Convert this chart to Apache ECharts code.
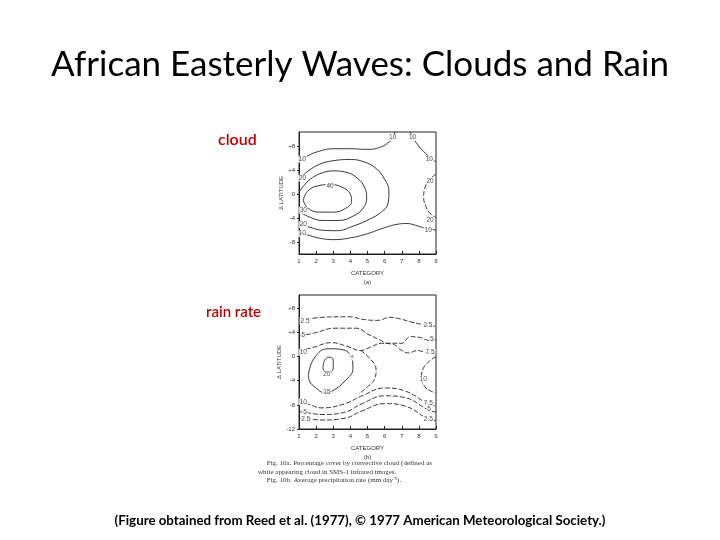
<!DOCTYPE html>
<html><head><meta charset="utf-8">
<script src="https://cdn.jsdelivr.net/npm/echarts@6/dist/echarts.min.js"></script>
<style>html,body{margin:0;padding:0;background:#fff}#c{width:720px;height:540px}</style>
</head><body><div id="c"></div>
<script>
// ---- tick values ----
const categoryTicks = [1, 2, 3, 4, 5, 6, 7, 8, 9];
const latTicksCloud = [-8, -4, 0, 4, 8];
const latTicksRain = [-12, -8, -4, 0, 4, 8];

// ---- panel (a): cloud cover contours [category, Δlatitude] ----
const cloud10Top = [[1,5.4],[1.5,6.4],[2.2,7.2],[3.0,7.6],[4.0,7.6],[5.0,7.5],[5.7,7.8],[6.2,8.6],[6.5,9.5],[6.6,10.4]];
const cloud10TopRight = [[7.5,10.4],[7.7,9.3],[8.0,8.0],[8.4,6.8],[8.7,6.0],[9,5.4]];
const cloud20 = [[1.0,2.5],[1.5,3.8],[2.2,5.0],[3.0,5.6],[4.0,5.8],[4.8,5.4],[5.5,4.3],[6.0,2.5],[6.25,0.5],[6.2,-1.5],[5.8,-3.0],[5.1,-4.2],[4.2,-5.3],[3.2,-6.1],[2.3,-6.0],[1.6,-5.5],[1.0,-5.0]];
const cloud30 = [[1,0.3],[1.3,1.5],[1.8,2.8],[2.4,3.6],[3.0,3.9],[3.7,3.7],[4.4,2.7],[4.85,1.0],[4.95,-0.6],[4.75,-2.3],[4.2,-3.6],[3.3,-4.4],[2.4,-4.4],[1.6,-3.8],[1.0,-2.9]];
const cloud40 = [[1.25,-1.0],[1.5,0.5],[2.1,1.4],[2.8,1.6],[3.5,1.2],[4.0,0],[4.07,-1.2],[3.7,-2.4],[3.0,-3.0],[2.2,-3.0],[1.5,-2.3],[1.25,-1.0]];
const cloud20Right = [[9,3.3],[8.6,2.4],[8.35,1.0],[8.28,-0.5],[8.4,-2.0],[8.65,-3.2],[9,-3.9]];
const cloud10Bottom = [[1,-6.3],[1.6,-6.9],[2.3,-7.4],[3.0,-7.6],[4.0,-7.3],[5.0,-6.6],[6.0,-5.6],[6.8,-5.0],[7.3,-4.9],[7.8,-5.2],[8.4,-5.7],[9,-6.0]];
const cloudLabels = [["10",1.19,5.86],["20",1.21,2.7],["30",1.25,-2.7],["20",1.25,-5.1],["10",1.19,-6.6],["40",2.81,1.3],["10",6.47,9.5],["10",7.63,9.5],["10",8.61,5.86],["20",8.65,2.25],["20",8.65,-4.36],["10",8.55,-6.08]];

// ---- panel (b): rain rate contours ----
const rain25Top = [[1,5.8],[2.3,6.5],[3.8,6.6],[4.9,6.1],[5.6,6.0],[6.3,6.5],[6.8,6.3],[7.6,5.7],[8.4,5.2],[9,5.0]];
const rain5Top = [[1,3.4],[1.9,3.9],[3.1,4.7],[4.3,4.7],[5.1,3.6],[5.7,2.8],[6.2,2.2],[7.0,2.2],[7.5,3.3],[8.0,3.2],[8.6,2.7],[9,2.8]];
const rain75Top = [[1,0.9],[1.8,1.5],[2.9,2.3],[3.8,1.7],[4.6,1.0],[5.2,1.6],[5.8,2.2],[6.5,2.0],[7.0,1.0],[7.4,0.6],[7.9,1.0],[8.5,0.6],[9,0.5]];
const rain10Left = [[4.6,1.0],[5.2,-0.5],[5.5,-2.2],[5.4,-3.8],[5.0,-5.0],[4.5,-6.2]];
const rain15 = [[1.55,-3],[1.9,-0.2],[2.7,1.3],[3.6,1.1],[4.1,-0.5],[4.15,-2],[3.7,-4.0],[3.0,-5.6],[2.5,-6.0],[2.0,-5.2],[1.6,-4.0],[1.55,-3]];
const rain20 = [[2.4,-1.8],[2.5,-0.6],[2.75,-0.1],[3.0,-0.6],[3.0,-1.8],[2.8,-2.6],[2.5,-2.5],[2.4,-1.8]];
const rain10Right = [[9,0],[8.6,-0.8],[8.25,-2],[8.15,-3.5],[8.35,-5],[8.75,-5.8],[9,-6]];
const rain75Bottom = [[1,-7.3],[1.47,-7.8],[2.34,-8.5],[3.69,-7.8],[4.68,-6.5],[6.02,-5.2],[7.19,-5.7],[8.53,-7.8],[9,-8.2]];
const rain5Bottom = [[1,-9.1],[1.47,-9.3],[2.34,-9.6],[3.69,-9.2],[4.68,-7.8],[6.02,-6.5],[7.19,-6.8],[8.53,-8.8],[9,-9.2]];
const rain25Bottom = [[1,-10.2],[1.47,-10.3],[2.34,-10.5],[3.69,-10.2],[4.68,-9.0],[6.02,-7.8],[7.19,-8.2],[8.53,-10.3],[9,-10.6]];
const rainLabels = [["2.5",1.35,5.9],["5",1.25,3.5],["10",1.25,0.7],["10",1.25,-7.5],["5",1.35,-9.3],["2.5",1.4,-10.3],["20",2.62,-2.9],["15",2.62,-5.95],["+",4.1,-0.1],["2.5",8.53,5.2],["5",8.76,2.8],["7.5",8.65,0.7],["10",8.25,-3.7],["7.5",8.55,-7.8],["5",8.6,-8.8],["2.5",8.55,-10.3]];

const chart = echarts.init(document.getElementById('c'));
const ink = '#222';
const axisFont = {fontFamily: 'Liberation Sans', fontSize: 6, color: '#333'};

function contour(data, idx, dashed) {
  return {type: 'line', xAxisIndex: idx, yAxisIndex: idx, data: data, smooth: 0.45,
    symbol: 'none', silent: true, animation: false, z: 2,
    lineStyle: {color: ink, width: 0.9, type: dashed ? [5, 2] : 'solid'}};
}
function labels(list, idx) {
  return {type: 'scatter', xAxisIndex: idx, yAxisIndex: idx, symbolSize: 0, silent: true, animation: false, z: 5,
    data: list.map(d => [d[1], d[2], d[0]]),
    label: {show: true, position: 'inside', formatter: p => p.value[2], fontFamily: 'Liberation Sans', fontSize: 6.5,
      color: '#222', backgroundColor: '#fff', padding: [0, 1]}};
}
function xAx(idx, name) {
  return {type: 'value', gridIndex: idx, min: 1, max: 9, interval: 1, name: name, nameLocation: 'middle', nameGap: 15,
    nameTextStyle: {fontFamily: 'Liberation Sans', fontSize: 6, color: '#333', lineHeight: 9},
    axisLine: {onZero: false, lineStyle: {color: ink, width: 1}}, axisTick: {inside: true, length: 3, lineStyle: {color: ink}},
    axisLabel: Object.assign({margin: 4}, axisFont), splitLine: {show: false}};
}
function yAx(idx, min, max, ticks) {
  return {type: 'value', gridIndex: idx, min: min, max: max, name: 'Δ LATITUDE', nameLocation: 'middle', nameGap: 15, nameRotate: 90,
    nameTextStyle: {fontFamily: 'Liberation Sans', fontSize: 6, color: '#333'},
    axisLine: {onZero: false, lineStyle: {color: ink, width: 1}},
    axisTick: {length: 2, customValues: ticks, lineStyle: {color: ink}},
    axisLabel: Object.assign({margin: 4, customValues: ticks, formatter: v => v > 0 ? '+' + v : String(v)}, axisFont),
    splitLine: {show: false}};
}

chart.setOption({
  backgroundColor: '#fff',
  animation: false,
  title: {text: 'African Easterly Waves: Clouds and Rain', left: 'center', top: 42,
    textStyle: {fontFamily: 'Lato', fontWeight: 'normal', fontSize: 35, color: '#000'}},
  grid: [
    {left: 299, top: 132, width: 137, height: 122, show: true, borderColor: ink, borderWidth: 1, backgroundColor: 'transparent'},
    {left: 299, top: 295, width: 137, height: 134, show: true, borderColor: ink, borderWidth: 1, backgroundColor: 'transparent'}
  ],
  xAxis: [xAx(0, 'CATEGORY\n(a)'), xAx(1, 'CATEGORY\n(b)')],
  yAxis: [yAx(0, -10, 10.4, latTicksCloud), yAx(1, -12, 10.2, latTicksRain)],
  series: [
    contour(cloud10Top, 0), contour(cloud10TopRight, 0), contour(cloud20, 0), contour(cloud30, 0),
    contour(cloud40, 0), contour(cloud20Right, 0, true), contour(cloud10Bottom, 0),
    labels(cloudLabels, 0),
    contour(rain25Top, 1, true), contour(rain5Top, 1, true), contour(rain75Top, 1, true), contour(rain10Left, 1, true),
    contour(rain15, 1), contour(rain20, 1), contour(rain10Right, 1, true),
    contour(rain75Bottom, 1, true), contour(rain5Bottom, 1, true), contour(rain25Bottom, 1, true),
    labels(rainLabels, 1)
  ],
  graphic: [
    {type: 'text', left: 218, top: 132, style: {text: 'cloud', fill: '#c00000', font: '600 16px Lato'}},
    {type: 'text', left: 206, top: 305, style: {text: 'rain rate', fill: '#c00000', font: '600 15px Lato'}},
    {type: 'text', left: 258, top: 459, style: {text: '     Fig. 10a. Percentage cover by convective cloud (defined as\nwhite appearing cloud in SMS-1 infrared images.\n     Fig. 10b. Average precipitation rate (mm day⁻¹).',
      fill: '#333', font: '7px "Liberation Serif"', lineHeight: 8.5}},
    {type: 'text', left: 'center', top: 514, style: {text: '(Figure obtained from Reed et al. (1977), © 1977 American Meteorological Society.)',
      fill: '#000', font: 'bold 13.3px Lato'}}
  ]
});
</script></body></html>
